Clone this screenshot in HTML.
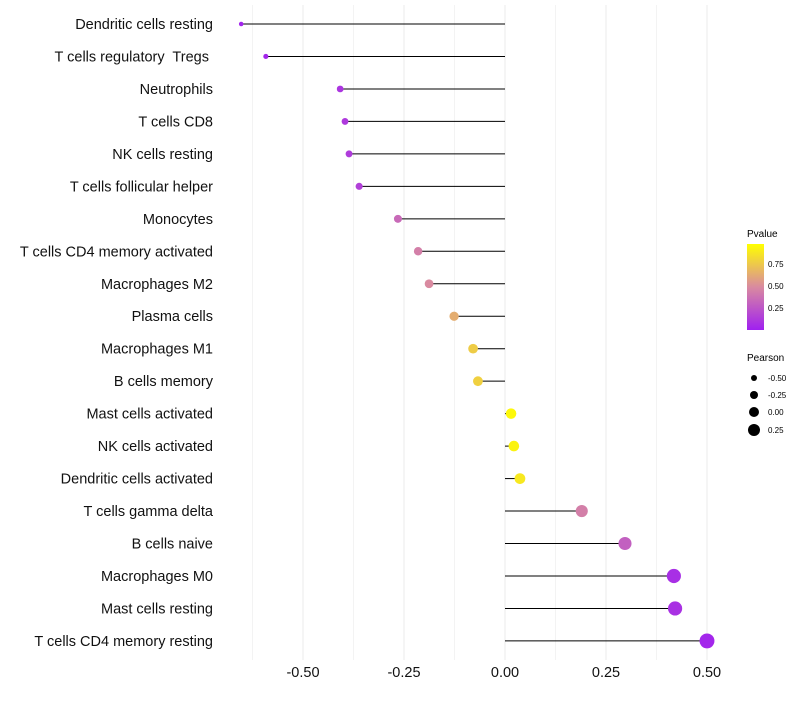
<!DOCTYPE html>
<html><head><meta charset="utf-8"><style>
body{margin:0;background:#fff;font-family:"Liberation Sans",sans-serif}
text{white-space:pre}
</style></head><body>
<svg id="chart" width="800" height="700" xmlns="http://www.w3.org/2000/svg" style="font-family:'Liberation Sans',sans-serif">
<defs><linearGradient id="pg" x1="0" y1="1" x2="0" y2="0">
<stop offset="0" stop-color="#a020f0"/><stop offset="0.5" stop-color="#d98aa0"/><stop offset="1" stop-color="#ffff00"/></linearGradient></defs>
<g id="grid"></g>
<g id="marks"></g>
<g id="labels"></g>
<g id="xt"></g>
<g>
<text x="747" y="237" font-size="10">Pvalue</text>
<rect x="747" y="244" width="17" height="86" fill="url(#pg)"/>
<text x="768" y="267" font-size="8">0.75</text>
<text x="768" y="289" font-size="8">0.50</text>
<text x="768" y="311" font-size="8">0.25</text>
</g>
<g>
<text x="747" y="361" font-size="10">Pearson</text>
<circle cx="754" cy="378" r="3"/><text x="768" y="381" font-size="8">-0.50</text>
<circle cx="754" cy="395" r="4"/><text x="768" y="398" font-size="8">-0.25</text>
<circle cx="754" cy="412" r="5"/><text x="768" y="415" font-size="8">0.00</text>
<circle cx="754" cy="430" r="6"/><text x="768" y="433" font-size="8">0.25</text>
</g>
</svg>
<script>
const categories=["Dendritic cells resting","T cells regulatory  Tregs ","Neutrophils","T cells CD8","NK cells resting","T cells follicular helper","Monocytes","T cells CD4 memory activated","Macrophages M2","Plasma cells","Macrophages M1","B cells memory","Mast cells activated","NK cells activated","Dendritic cells activated","T cells gamma delta","B cells naive","Macrophages M0","Mast cells resting","T cells CD4 memory resting"];
const pearson=[-0.653,-0.592,-0.408,-0.396,-0.386,-0.361,-0.265,-0.215,-0.188,-0.126,-0.079,-0.067,0.015,0.022,0.037,0.19,0.297,0.418,0.421,0.5];
const pvalue=[0.02,0.03,0.1,0.12,0.13,0.15,0.35,0.45,0.5,0.65,0.78,0.8,0.97,0.95,0.9,0.45,0.3,0.07,0.08,0.03];
const xTicks=[-0.5,-0.25,0,0.25,0.5];
const xTickLabels=["-0.50","-0.25","0.00","0.25","0.50"];
const NS="http://www.w3.org/2000/svg";
const x=v=>505+v*404;
const y=i=>24+i*32.47;
const rad=v=>5.2+v*4.5;
function lerp(a,b,t){return a.map((c,k)=>Math.round(c+(b[k]-c)*t));}
function col(p){const s=[[160,32,240],[217,138,160],[255,255,0]];const c=p<0.5?lerp(s[0],s[1],p/0.5):lerp(s[1],s[2],(p-0.5)/0.5);return `rgb(${c})`;}
function mk(t,a,parent){const e=document.createElementNS(NS,t);for(const k in a)e.setAttribute(k,a[k]);parent.appendChild(e);return e;}
const grid=document.getElementById('grid'),marks=document.getElementById('marks'),labels=document.getElementById('labels'),xt=document.getElementById('xt');
for(let v=-0.625;v<=0.51;v+=0.125){const major=Math.abs(v*4-Math.round(v*4))<1e-6;const g=mk('line',{x1:x(v),x2:x(v),y1:5,y2:660,stroke:major?'#ebebeb':'#f3f3f3','stroke-width':1},grid);

}
categories.forEach((c,i)=>{
const l=mk('line',{x1:x(0),x2:x(pearson[i]),y1:y(i),y2:y(i),stroke:'#000','stroke-width':1},marks);


const p=mk('circle',{cx:x(pearson[i]),cy:y(i),r:Math.max(1.5,rad(pearson[i])),fill:col(pvalue[i])},marks);


const t=mk('text',{x:213,y:y(i)+5,'text-anchor':'end','font-size':14.5,fill:'#111'},labels);t.textContent=c;


});
xTicks.forEach((v,i)=>{const t=mk('text',{x:x(v),y:677,'text-anchor':'middle','font-size':14.5,fill:'#111'},xt);t.textContent=xTickLabels[i];

});
</script>
</body></html>
